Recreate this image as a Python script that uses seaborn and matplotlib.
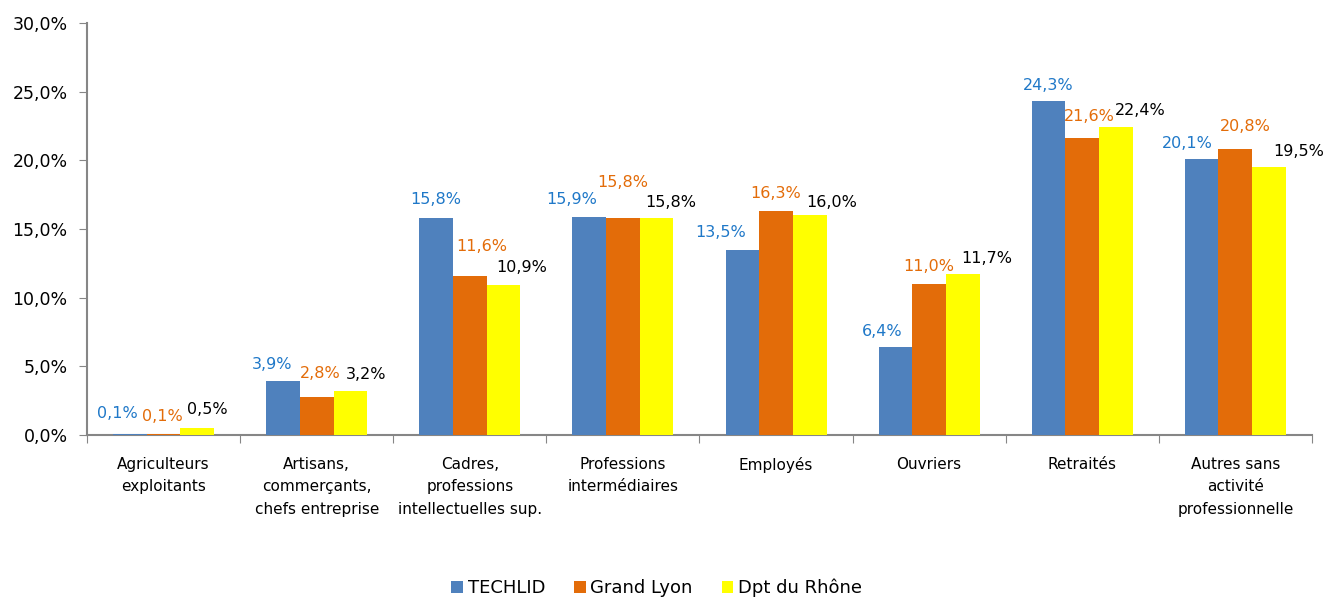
import matplotlib
matplotlib.use("Agg")
import matplotlib.pyplot as plt
import matplotlib.ticker as mticker
import numpy as np
import pandas as pd
import seaborn as sns

# Data
categories = ["Agriculteurs\nexploitants",
              "Artisans,\ncommerçants,\nchefs entreprise",
              "Cadres,\nprofessions\nintellectuelles sup.",
              "Professions\nintermédiaires",
              "Employés",
              "Ouvriers",
              "Retraités",
              "Autres sans\nactivité\nprofessionnelle"]
series = ["TECHLID", "Grand Lyon", "Dpt du Rhône"]
techlid = [0.1, 3.9, 15.8, 15.9, 13.5, 6.4, 24.3, 20.1]
grand_lyon = [0.1, 2.8, 11.6, 15.8, 16.3, 11.0, 21.6, 20.8]
rhone = [0.5, 3.2, 10.9, 15.8, 16.0, 11.7, 22.4, 19.5]

bar_colors = ["#4F81BD", "#E36C09", "#FFFF00"]
label_colors = ["#1F78C8", "#E36C09", "#000000"]

# label nudges (pixels, from bar top centre) as Excel placed them
label_dx = [[-13, -11, 0, -18, -22, -13, 0, -14],
            [-1, 4, 12, 0, 0, 0, 7, 10],
            [10, 16, 18, 14, 22, 24, 24, 30]]
label_dy = [[20, 17, 18, 17, 17, 16, 16, 15],
            [17, 23, 29, 35, 18, 17, 22, 23],
            [19, 17, 18, 15, 13, 16, 17, 16]]


def fmt(v):
    return f"{v:.1f}".replace(".", ",") + "%"


def main():
    sns.set_style("white")
    plt.rcParams["font.family"] = ["DejaVu Sans"]
    plt.rcParams["text.color"] = "black"
    plt.rcParams["xtick.labelcolor"] = "black"
    plt.rcParams["ytick.labelcolor"] = "black"

    df = pd.DataFrame({
        "Catégorie": categories * 3,
        "Série": [s for s in series for _ in categories],
        "Valeur": techlid + grand_lyon + rhone,
    })

    fig = plt.figure(figsize=(13.4, 5.98), dpi=100)
    ax = fig.add_axes([0.065, 0.2726, 0.914, 0.689])

    sns.barplot(data=df, x="Catégorie", y="Valeur", hue="Série",
                palette=bar_colors, width=0.66, saturation=1,
                linewidth=0, ax=ax, legend=True, zorder=3)

    # value labels
    for k, (cont, col) in enumerate(zip(ax.containers, label_colors)):
        for j, b in enumerate(cont):
            ax.annotate(fmt(b.get_height()),
                        (b.get_x() + b.get_width() / 2, b.get_height()),
                        xytext=(label_dx[k][j], label_dy[k][j]),
                        textcoords="offset pixels", ha="center", va="center",
                        color=col, fontsize=11.5)

    ax.set_ylim(0, 30)
    ax.set_xlim(-0.5, len(categories) - 0.5)
    ax.yaxis.set_major_locator(mticker.MultipleLocator(5))
    ax.yaxis.set_major_formatter(
        mticker.FuncFormatter(lambda v, p: f"{v:.1f}".replace(".", ",") + "%"))
    ax.set_xlabel("")
    ax.set_ylabel("")

    # ticks between the groups, labels in the middle
    ax.set_xticks(np.arange(len(categories) + 1) - 0.5)
    ax.set_xticklabels([])
    ax.set_xticks(np.arange(len(categories)), minor=True)
    ax.set_xticklabels(categories, minor=True, fontsize=11, linespacing=1.6)
    ax.tick_params(axis="x", which="minor", length=0, pad=16,
                   labelcolor="black")
    ax.tick_params(axis="x", which="major", length=6, color="#868686",
                   direction="out", bottom=True)
    ax.tick_params(axis="y", labelsize=12.5, length=6, color="#868686",
                   direction="out", left=True, pad=8, labelcolor="black")

    for side in ["top", "right"]:
        ax.spines[side].set_visible(False)
    for side in ["left", "bottom"]:
        ax.spines[side].set_color("#868686")
        ax.spines[side].set_linewidth(1.5)

    handles, labels = ax.get_legend_handles_labels()
    ax.get_legend().remove()
    fig.legend(handles, labels, loc="center", bbox_to_anchor=(0.49, 0.017),
               ncol=3, frameon=False, fontsize=13, handlelength=0.65,
               handleheight=0.65, handletextpad=0.25, columnspacing=1.6,
               labelcolor="black")

    plt.savefig("out.png", dpi=100)


main()
